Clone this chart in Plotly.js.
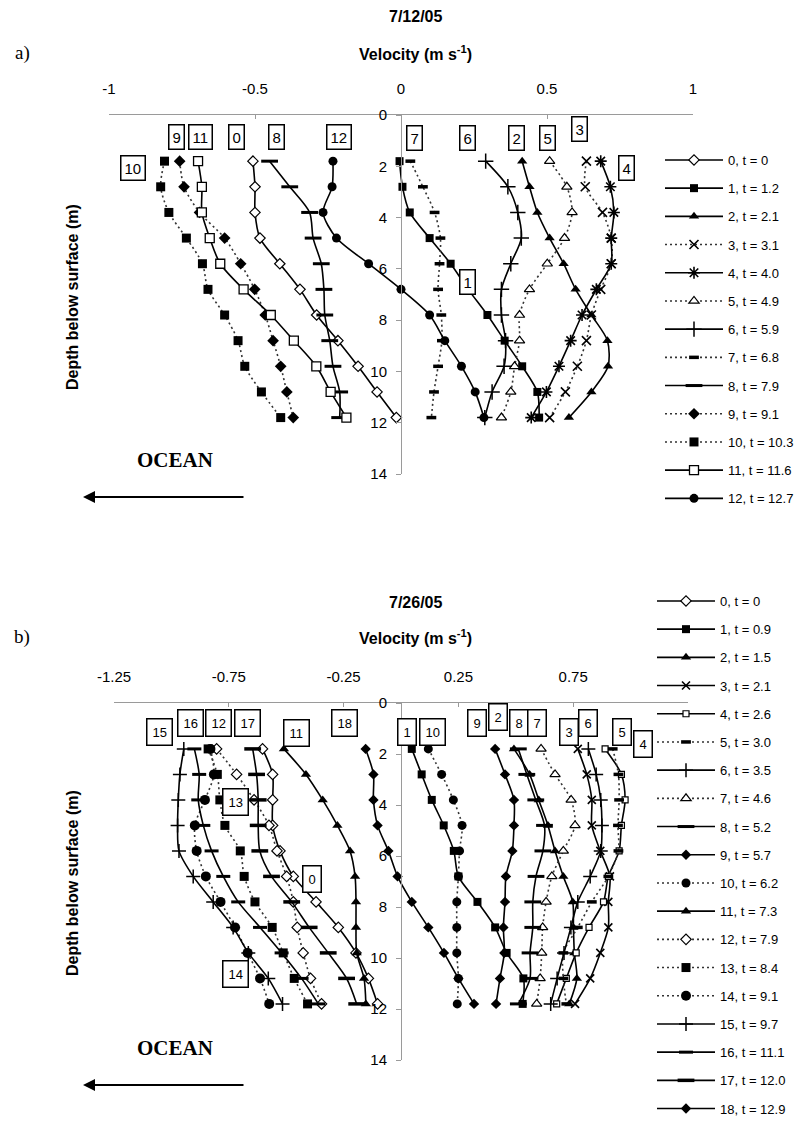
<!DOCTYPE html>
<html>
<head>
<meta charset="utf-8">
<script src="https://cdn.plot.ly/plotly-3.0.1.min.js"></script>
<style>
html,body{margin:0;padding:0;background:#fff;}
#chart{width:807px;height:1121px;}
</style>
</head>
<body>
<div id="chart"></div>
<script>
// ---------------- DATA ----------------
var depth = [1.8, 2.8, 3.8, 4.8, 5.8, 6.8, 7.8, 8.8, 9.8, 10.8, 11.8];

// Panel a) 7/12/05 velocity profiles (m/s)
var a0  = [-0.507, -0.50, -0.50, -0.483, -0.415, -0.346, -0.289, -0.216, -0.147, -0.082, -0.016];
var a1  = [-0.005, 0.005, 0.03, 0.098, 0.17, 0.23, 0.296, 0.355, 0.415, 0.467, 0.473];
var a2  = [0.415, 0.44, 0.467, 0.509, 0.557, 0.598, 0.652, 0.707, 0.709, 0.652, 0.575];
var a3  = [0.635, 0.631, 0.69, 0.72, 0.72, 0.684, 0.652, 0.635, 0.604, 0.563, 0.509];
var a4  = [0.684, 0.717, 0.729, 0.72, 0.72, 0.669, 0.62, 0.581, 0.541, 0.498, 0.446];
var a5  = [0.509, 0.568, 0.586, 0.56, 0.501, 0.44, 0.406, 0.406, 0.389, 0.376, 0.344];
var a6  = [0.29, 0.366, 0.40, 0.412, 0.376, 0.344, 0.344, 0.358, 0.353, 0.312, 0.287];
var a7  = [0.032, 0.075, 0.115, 0.135, 0.132, 0.127, 0.138, 0.14, 0.127, 0.113, 0.104];
var a8  = [-0.45, -0.381, -0.313, -0.301, -0.273, -0.264, -0.261, -0.244, -0.233, -0.21, -0.21];
var a9  = [-0.758, -0.743, -0.69, -0.604, -0.549, -0.501, -0.465, -0.438, -0.412, -0.391, -0.369];
var a10 = [-0.81, -0.823, -0.795, -0.735, -0.68, -0.661, -0.604, -0.558, -0.535, -0.478, -0.412];
var a11 = [-0.695, -0.682, -0.682, -0.655, -0.619, -0.539, -0.446, -0.367, -0.29, -0.241, -0.187];
var a12 = [-0.233, -0.236, -0.267, -0.221, -0.111, 0.0, 0.098, 0.15, 0.207, 0.254, 0.284];
var namesA = ["0, t = 0", "1, t = 1.2", "2, t = 2.1", "3, t = 3.1", "4, t = 4.0", "5, t = 4.9",
  "6, t = 5.9", "7, t = 6.8", "8, t = 7.9", "9, t = 9.1", "10, t = 10.3", "11, t = 11.6", "12, t = 12.7"];

// Panel b) 7/26/05 velocity profiles (m/s)
var b0  = [-0.603, -0.559, -0.559, -0.559, -0.527, -0.469, -0.37, -0.273, -0.196, -0.142, -0.102];
var b1  = [0.047, 0.09, 0.134, 0.186, 0.23, 0.25, 0.333, 0.41, 0.46, 0.533, 0.53];
var b2  = [0.492, 0.56, 0.60, 0.64, 0.671, 0.707, 0.748, 0.751, 0.755, 0.766, 0.733];
var b3  = [0.77, 0.809, 0.831, 0.831, 0.868, 0.91, 0.903, 0.903, 0.868, 0.824, 0.758];
var b4  = [0.889, 0.96, 0.976, 0.96, 0.95, 0.903, 0.882, 0.819, 0.763, 0.72, 0.678];
var b5  = [0.922, 0.947, 0.95, 0.945, 0.947, 0.903, 0.831, 0.77, 0.707, 0.707, 0.72];
var b6  = [0.816, 0.85, 0.87, 0.875, 0.87, 0.824, 0.77, 0.74, 0.71, 0.68, 0.652];
var b7  = [0.61, 0.671, 0.741, 0.758, 0.707, 0.657, 0.632, 0.617, 0.613, 0.606, 0.591];
var b8  = [0.511, 0.548, 0.587, 0.625, 0.618, 0.588, 0.574, 0.574, 0.562, 0.562, 0.511];
var b9  = [0.41, 0.453, 0.492, 0.492, 0.485, 0.457, 0.453, 0.446, 0.45, 0.431, 0.414];
var b10 = [0.119, 0.177, 0.228, 0.266, 0.255, 0.25, 0.243, 0.243, 0.243, 0.25, 0.245];
var b11 = [-0.51, -0.414, -0.341, -0.277, -0.222, -0.2, -0.196, -0.196, -0.193, -0.161, -0.153];
var b12 = [-0.803, -0.716, -0.64, -0.575, -0.54, -0.498, -0.469, -0.452, -0.426, -0.394, -0.346];
var b13 = [-0.84, -0.80, -0.789, -0.767, -0.70, -0.683, -0.636, -0.561, -0.513, -0.465, -0.407];
var b14 = [-0.83, -0.815, -0.854, -0.898, -0.89, -0.85, -0.786, -0.723, -0.668, -0.614, -0.574];
var b15 = [-0.946, -0.963, -0.97, -0.973, -0.967, -0.905, -0.818, -0.731, -0.665, -0.578, -0.516];
var b16 = [-0.90, -0.879, -0.883, -0.861, -0.825, -0.774, -0.709, -0.614, -0.52, -0.433, -0.36];
var b17 = [-0.646, -0.629, -0.622, -0.622, -0.615, -0.564, -0.476, -0.40, -0.317, -0.237, -0.193];
var b18 = [-0.154, -0.12, -0.12, -0.102, -0.055, -0.015, 0.047, 0.119, 0.187, 0.25, 0.318];
var namesB = ["0, t = 0", "1, t = 0.9", "2, t = 1.5", "3, t = 2.1", "4, t = 2.6", "5, t = 3.0",
  "6, t = 3.5", "7, t = 4.6", "8, t = 5.2", "9, t = 5.7", "10, t = 6.2", "11, t = 7.3",
  "12, t = 7.9", "13, t = 8.4", "14, t = 9.1", "15, t = 9.7", "16, t = 11.1", "17, t = 12.0", "18, t = 12.9"];

// tick labels
var xTicksA = [-1, -0.5, 0, 0.5, 1];
var xTickTextA = ["-1", "-0.5", "0", "0.5", "1"];
var xTicksB = [-1.25, -0.75, -0.25, 0.25, 0.75];
var xTickTextB = ["-1.25", "-0.75", "-0.25", "0.25", "0.75"];
var yTicks = [0, 2, 4, 6, 8, 10, 12, 14];

// profile number tags
var tagTextA = ["9", "11", "0", "8", "12", "10", "7", "6", "2", "5", "3", "4", "1"];
var tagTextB = ["15", "16", "12", "17", "11", "18", "13", "0", "14", "1", "10", "9", "2", "8", "7", "3", "6", "5", "4"];

// ---------------- STYLES / POSITIONS ----------------
var tagPosA = [[-0.77,0.86],[-0.685,0.86],[-0.562,0.86],[-0.425,0.86],[-0.212,0.86],[-0.918,2.07],
  [0.047,0.9],[0.227,0.9],[0.395,0.9],[0.50,0.9],[0.612,0.56],[0.772,2.08],[0.227,6.5]];
var tagPosB = [[-1.053,1.13],[-0.919,0.8],[-0.793,0.8],[-0.668,0.8],[-0.457,1.19],[-0.244,0.8],
  [-0.72,3.9],[-0.386,6.91],[-0.723,10.64],[0.025,1.13],[0.138,1.13],[0.332,0.8],[0.424,0.54],
  [0.515,0.8],[0.594,0.8],[0.732,1.15],[0.816,0.8],[0.962,1.15],[1.056,1.61]];

// [symbol, size, filled('f' black, 'w' white fill, 'l' line-only), lineWidthMarker, dotted]
var stA = [
  ["diamond",8,"w",1.2,false],["square",8,"f",0,false],["triangle-up",9,"f",0,false],
  ["x-thin-open",9,"l",1.6,true],["asterisk-open",10,"l",1.6,false],["triangle-up",9,"w",1.2,true],
  ["cross-thin-open",11,"l",1.5,false],["line-ew-open",7,"l",3.5,true],["line-ew-open",12,"l",3,false],
  ["diamond",9,"f",0,true],["square",9,"f",0,true],["square",9,"w",1.3,false],["circle",9,"f",0,false]
];
var stB = [
  ["diamond",8,"w",1.2,false],["square",8,"f",0,false],["triangle-up",9,"f",0,false],
  ["x-thin-open",8,"l",1.6,false],["square",6,"w",1.2,false],["line-ew-open",7,"l",3.5,true],
  ["cross-thin-open",10,"l",1.5,false],["triangle-up",9,"w",1.2,true],["line-ew-open",12,"l",3,false],
  ["diamond",8,"f",0,false],["circle",9,"f",0,true],["triangle-up",9,"f",0,false],
  ["diamond",8,"w",1.2,true],["square",9,"f",0,true],["circle",10,"f",0,true],
  ["cross-thin-open",10,"l",1.5,false],["line-ew-open",10,"l",3,false],["line-ew-open",12,"l",3.5,false],
  ["diamond",8,"f",0,false]
];

var seriesA = [a0,a1,a2,a3,a4,a5,a6,a7,a8,a9,a10,a11,a12];
var seriesB = [b0,b1,b2,b3,b4,b5,b6,b7,b8,b9,b10,b11,b12,b13,b14,b15,b16,b17,b18];

function mk(vals, name, st, xa, ya, leg, gid) {
  var marker = {symbol: st[0], size: st[1]};
  if (st[2] === "f") { marker.color = "#000"; marker.line = {width: 0}; }
  else if (st[2] === "w") { marker.color = "#fff"; marker.line = {color: "#000", width: st[3]}; }
  else { marker.color = "#000"; marker.line = {color: "#000", width: st[3]}; }
  return {
    type: "scatter", mode: "lines+markers", x: vals, y: depth, name: name,
    xaxis: xa, yaxis: ya, legend: leg, legendgroup: gid,
    line: st[4] ? {color: "#333", width: 1.6, dash: "2px,3px", shape: "spline", smoothing: 0.8}
                : {color: "#000", width: 1.6, shape: "spline", smoothing: 0.8},
    marker: marker, hoverinfo: "skip", cliponaxis: false
  };
}

var traces = [];
seriesA.forEach(function (v, i) { traces.push(mk(v, namesA[i], stA[i], "x", "y", "legend", "a" + i)); });
seriesB.forEach(function (v, i) { traces.push(mk(v, namesB[i], stB[i], "x2", "y2", "legend2", "b" + i)); });

var W = 807, H = 1121;
function px(x) { return x / W; }
function py(y) { return 1 - y / H; }

var FONT = "Liberation Sans, Arial, sans-serif";
var SERIF = "Liberation Serif, Times New Roman, serif";

var ann = [];
tagTextA.forEach(function (t, i) {
  ann.push({xref: "x", yref: "y", x: tagPosA[i][0], y: tagPosA[i][1], text: t, showarrow: false,
    font: {family: FONT, size: 15, color: "#000"}, bordercolor: "#000", borderwidth: 1.5,
    borderpad: 3, bgcolor: "#fff"});
});
tagTextB.forEach(function (t, i) {
  ann.push({xref: "x2", yref: "y2", x: tagPosB[i][0], y: tagPosB[i][1], text: t, showarrow: false,
    font: {family: FONT, size: 13, color: "#000"}, bordercolor: "#000", borderwidth: 1.5,
    borderpad: 5, bgcolor: "#fff"});
});

function txt(x, y, t, f, extra) {
  var o = {xref: "paper", yref: "paper", x: px(x), y: py(y), text: t, showarrow: false,
    xanchor: "center", yanchor: "middle", font: f};
  if (extra) for (var k in extra) o[k] = extra[k];
  ann.push(o);
}
var bold16 = {family: FONT, size: 16, color: "#000"};
txt(416, 17, "<b>7/12/05</b>", bold16);
txt(416, 53, "<b>Velocity (m s<sup>-1</sup>)</b>", bold16);
txt(416, 602, "<b>7/26/05</b>", bold16);
txt(416, 637, "<b>Velocity (m s<sup>-1</sup>)</b>", bold16);
txt(72, 297, "<b>Depth below surface (m)</b>", bold16, {textangle: -90});
txt(72, 883, "<b>Depth below surface (m)</b>", bold16, {textangle: -90});
txt(22, 53, "a)", {family: SERIF, size: 19, color: "#000"});
txt(22, 637, "b)", {family: SERIF, size: 19, color: "#000"});
txt(175, 460, "<b>OCEAN</b>", {family: SERIF, size: 21, color: "#000"});
txt(175, 1048, "<b>OCEAN</b>", {family: SERIF, size: 21, color: "#000"});

[497, 1085].forEach(function (yy) {
  ann.push({xref: "paper", yref: "paper", x: px(83), y: py(yy), ax: 162, ay: 0, text: "",
    showarrow: true, arrowhead: 2, arrowsize: 1.2, arrowwidth: 2, arrowcolor: "#000", standoff: 0});
});

var axCommon = {showgrid: false, zeroline: false, showline: true, linecolor: "#9a9a9a", linewidth: 1.2,
  tickcolor: "#9a9a9a", tickfont: {family: FONT, size: 15, color: "#000"}, fixedrange: true};

function ext(base, o) { var r = {}; for (var k in base) r[k] = base[k]; for (var k2 in o) r[k2] = o[k2]; return r; }

var layout = {
  width: W, height: H, margin: {l: 0, r: 0, t: 0, b: 0, autoexpand: false},
  paper_bgcolor: "#fff", plot_bgcolor: "rgba(0,0,0,0)", showlegend: true,
  xaxis: ext(axCommon, {domain: [px(109), px(693)], range: [-1, 1], side: "top", anchor: "y",
    tickmode: "array", tickvals: xTicksA, ticktext: xTickTextA, ticks: "inside", ticklen: 4, ticklabelstandoff: 14}),
  yaxis: ext(axCommon, {domain: [py(474), py(115)], range: [14, 0], anchor: "free", position: px(401),
    tickmode: "array", tickvals: yTicks, ticks: "outside", ticklen: 5, ticklabelstandoff: 6}),
  xaxis2: ext(axCommon, {domain: [px(114), px(688)], range: [-1.25, 1.25], side: "top", anchor: "y2",
    tickmode: "array", tickvals: xTicksB, ticktext: xTickTextB, ticks: "inside", ticklen: 4, ticklabelstandoff: 14}),
  yaxis2: ext(axCommon, {domain: [py(1060), py(703)], range: [14, 0], anchor: "free", position: px(401),
    tickmode: "array", tickvals: yTicks, ticks: "outside", ticklen: 5, ticklabelstandoff: 6}),
  legend: {x: px(660), y: py(145), xanchor: "left", yanchor: "top", bgcolor: "rgba(255,255,255,0)",
    font: {family: FONT, size: 13, color: "#000"}, itemwidth: 58, tracegroupgap: 8.3, traceorder: "grouped"},
  legend2: {x: px(652), y: py(586), xanchor: "left", yanchor: "top", bgcolor: "rgba(255,255,255,0)",
    font: {family: FONT, size: 13, color: "#000"}, itemwidth: 58, tracegroupgap: 8.3, traceorder: "grouped"},
  annotations: ann
};

Plotly.newPlot("chart", traces, layout, {staticPlot: true, displayModeBar: false});
</script>
</body>
</html>
